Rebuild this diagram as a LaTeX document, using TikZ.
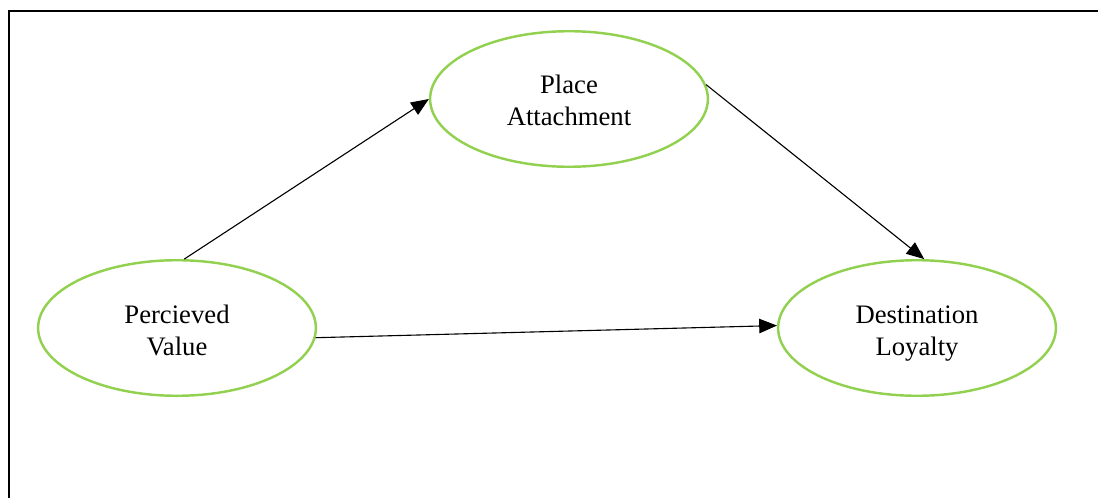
\documentclass[tikz,border=0pt]{standalone}
\usepackage{fontspec}
\setmainfont{Liberation Serif}
\usetikzlibrary{shapes.geometric,arrows.meta}
\definecolor{leaf}{RGB}{146,208,80}
\begin{document}
\begin{tikzpicture}[x=0.45pt,y=-0.45pt,
  oval/.style={ellipse,draw=leaf,line width=1.1pt,inner sep=0pt,
    minimum width=125pt,minimum height=61pt,align=center,
    font=\fontsize{12}{14.4}\selectfont},
  lbl/.style={align=center,inner sep=0pt,font=\fontsize{12}{14.4}\selectfont},
  link/.style={line width=0.5pt,-{Triangle[length=8pt,width=6.5pt]}}]
\useasboundingbox (0,0) rectangle (1098,498);
\draw[line width=1.1pt] (9,498) -- (9,11) -- (1098,11);
\node[oval] (pa) at (569,99) {};
\node[oval] (pv) at (177,328) {};
\node[oval] (dl) at (917,328) {};
\node[lbl] (pat) at (569,103) {\strut Place\\\strut Attachment};
\node[lbl] (pvt) at (177,333) {\strut Percieved\\\strut Value};
\node[lbl] (dlt) at (917,333) {\strut Destination\\\strut Loyalty};
\draw[link] (pv.84) -- (pa.west);
\draw[link] (pa.6) -- (dl.84);
\draw[link] (pv.356.7) -- (dl.179);
\end{tikzpicture}
\end{document}
